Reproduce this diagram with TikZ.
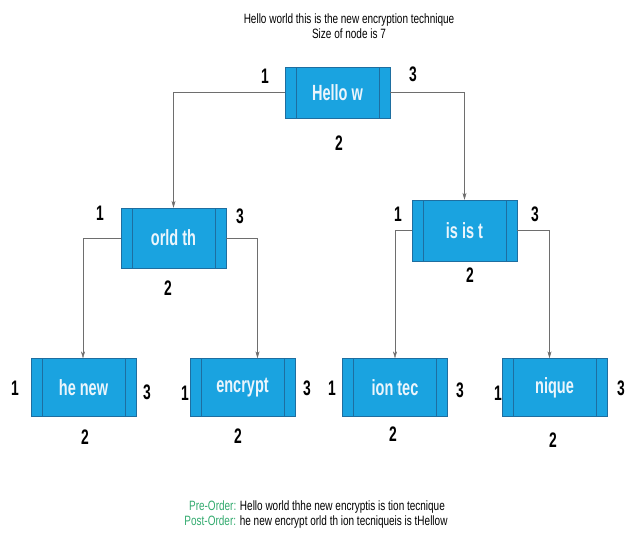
\documentclass[tikz,border=0pt]{standalone}
\usepackage{fontspec}
\setmainfont{Liberation Sans}[FakeStretch=0.74]
\newfontfamily\boxfont{Liberation Sans}[FakeStretch=0.66]
\usetikzlibrary{arrows.meta}
\definecolor{boxfill}{RGB}{26,163,224}
\definecolor{boxedge}{RGB}{30,110,160}
\definecolor{boxtext}{RGB}{235,245,252}
\definecolor{wire}{RGB}{110,110,110}
\definecolor{ordgreen}{RGB}{50,170,110}
\tikzset{
  chunk/.style={rectangle, draw=boxedge, fill=boxfill, text=boxtext,
    minimum width=105pt, minimum height=58pt, inner sep=0pt,
    font=\boxfont\bfseries\fontsize{22}{22}\selectfont,
    path picture={
      \draw[boxedge] ([xshift=11pt]path picture bounding box.north west)
        -- ([xshift=11pt]path picture bounding box.south west);
      \draw[boxedge] ([xshift=-11pt]path picture bounding box.north east)
        -- ([xshift=-11pt]path picture bounding box.south east);
    }},
  num/.style={font=\boxfont\bfseries\fontsize{21}{21}\selectfont, inner sep=0pt},
  note/.style={font=\fontsize{13.5}{15}\selectfont, inner sep=0pt, align=center},
  link/.style={draw=wire, -{Stealth[length=7pt,width=4pt]}}
}
\begin{document}
\begin{tikzpicture}[x=1pt,y=-1pt]
  \useasboundingbox (0,0) rectangle (626,536);
  \node[note] (title) at (349,26) {Hello world this is the new encryption technique\\Size of node is 7};
  % the tree
  \node[chunk, minimum height=51pt] (root) at (337.5,92.5) {Hello w};
  \node[chunk, minimum height=60pt] (orld) at (173.5,238) {orld th};
  \node[chunk, minimum height=61pt] (isis) at (464.5,230.5) {is is t};
  \node[chunk] (henew) at (83.5,387.5) {he new};
  \node[chunk] (encrypt) at (242.5,387.5) {encrypt};
  \node[chunk] (iontec) at (395,387.5) {ion tec};
  \node[chunk] (nique) at (554.5,387.5) {nique};
  \begin{scope}[link]
    \draw (root.west) -| (orld.north);
    \draw (root.east) -| (isis.north);
    \draw (orld.west) -| ([xshift=-0.5pt]henew.north);
    \draw (orld.east) -| ([xshift=15pt]encrypt.north);
    \draw (isis.west) -| (iontec.north);
    \draw (isis.east) -| ([xshift=-5pt]nique.north);
  \end{scope}
  % side numbers
  \node[num] (root1) at (265,76) {1};
  \node[num] (root3) at (413,74) {3};
  \node[num] (root2) at (339,143) {2};
  \node[num] (orld1) at (100,213) {1};
  \node[num] (orld3) at (240,216) {3};
  \node[num] (orld2) at (168,288) {2};
  \node[num] (isis1) at (398,214) {1};
  \node[num] (isis3) at (535,214) {3};
  \node[num] (isis2) at (470,275) {2};
  \node[num] (henew1) at (15,388) {1};
  \node[num] (henew3) at (147,392) {3};
  \node[num] (henew2) at (85,437) {2};
  \node[num] (encrypt1) at (185,393) {1};
  \node[num] (encrypt3) at (307,388) {3};
  \node[num] (encrypt2) at (238,436) {2};
  \node[num] (iontec1) at (332,388) {1};
  \node[num] (iontec3) at (460,390) {3};
  \node[num] (iontec2) at (393,434) {2};
  \node[num] (nique1) at (498,393) {1};
  \node[num] (nique3) at (621,388) {3};
  \node[num] (nique2) at (553,440) {2};
  % traversals
  \node[note] (pre) at (317,507) {\textcolor{ordgreen}{Pre-Order:} Hello world thhe new encryptis is tion tecnique};
  \node[note] (post) at (316,522) {\textcolor{ordgreen}{Post-Order:} he new encrypt orld th ion tecniqueis is tHellow};
\end{tikzpicture}
\end{document}
